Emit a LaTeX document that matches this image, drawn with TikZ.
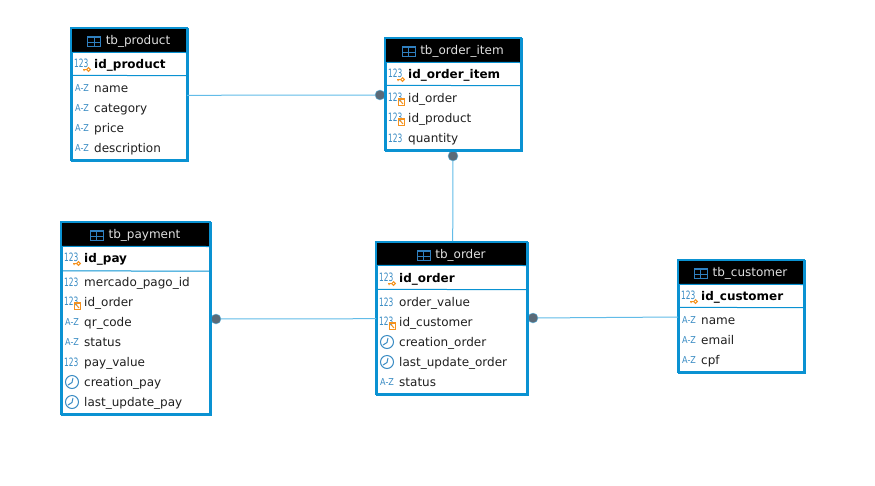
\documentclass[tikz,border=0pt]{standalone}
\usepackage{fontspec}
\setmainfont{DejaVu Sans}
\definecolor{tblue}{HTML}{0A92D2}
\definecolor{iblue}{HTML}{3A8CC4}
\definecolor{hblue}{HTML}{2F7FBF}
\definecolor{korange}{HTML}{F5921E}
\definecolor{dotc}{HTML}{5A6A78}
\definecolor{linec}{HTML}{62BCE8}
\newcounter{rowid}
\tikzset{
 tblbox/.style={draw=tblue,line width=1.8pt,fill=white,inner sep=0pt,minimum width=0pt,anchor=north west},
 hdr/.style={fill=black,inner sep=0pt,anchor=north west},
 hdrtxt/.style={text=white!88!black,font=\fontsize{12pt}{14pt}\selectfont,anchor=base west,inner sep=0pt},
 rowtxt/.style={text=black!88,font=\fontsize{12pt}{14pt}\selectfont,anchor=base west,inner sep=0pt},
 keytxt/.style={rowtxt,font=\fontsize{12pt}{14pt}\selectfont\bfseries,text=black},
 icontxt/.style={text=iblue,font=\fontsize{11.5pt}{13pt}\selectfont,xscale=0.65,anchor=base west,inner sep=0pt},
 aztxt/.style={text=iblue,font=\fontsize{9.5pt}{11pt}\selectfont,xscale=0.85,anchor=base west,inner sep=0pt},
 rel/.style={draw=linec,line width=1pt},
 reldot/.style={circle,fill=dotc,draw=linec,line width=0.4pt,inner sep=0pt,minimum size=10pt},
}
% #1 name, #2 x1, #3 y1, #4 x2, #5 y2, #6 header bottom, #7 key line, #8 title
\newcommand{\tbl}[8]{
 \node[tblbox,minimum width=#4pt-#2pt,minimum height=#5pt-#3pt] (#1) at (#2,#3) {};
 \node[hdr,minimum width=#4pt-#2pt,minimum height=#6pt-#3pt] (#1-h) at (#2,#3) {};
 \draw[tblue,line width=1pt] (#2,#6+0.3) -- (#4,#6+0.5);
 \draw[tblue,line width=1pt] (#2,#7-0.1) -- (#4,#7+0.1);
 \draw[tblue,line width=1.8pt] (#2,#3) rectangle (#4,#5);
 \pgfmathsetmacro{\tw}{(#2+#4)/2}
 \node[hdrtxt,anchor=base] (#1-t) at (\tw+9,#3+16.5) {#8};
 \begin{scope}[shift={(#1-t.west)},xshift=-18pt,yshift=0pt]
  \draw[hblue,line width=1pt] (0,-5) rectangle (13,5);
  \fill[hblue] (0,-5) rectangle (13,-3);
  \draw[hblue,line width=1pt] (0,1) -- (13,1) (6.5,-3) -- (6.5,5);
 \end{scope}
}
\newcommand{\ionum}[2]{\node[icontxt] (ic\therowid) at (#1,#2) {123};}
\newcommand{\ikey}[2]{\ionum{#1}{#2-0.5}
 \draw[korange,line width=1pt] (#1+14.5,#2+1.5) circle (1.8) (#1+12.7,#2+1.5) -- (#1+9,#2+1.5) (#1+10,#2+1.5) -- (#1+10,#2+3);}
\newcommand{\ifk}[2]{\ionum{#1}{#2-0.5}
 \draw[korange,line width=1.3pt] (#1+10.5,#2-3) rectangle (#1+16.5,#2+3.5);
 \draw[korange,line width=1pt] (#1+12,#2-1.5) -- (#1+15,#2+2);}
\newcommand{\iaz}[2]{\node[aztxt] (ic\therowid) at (#1+1,#2-0.5) {A-Z};}
\newcommand{\iclk}[2]{\draw[iblue,line width=1pt] (#1+8,#2-4) circle (6.5);
 \draw[iblue,line width=1pt] (#1+9,#2-8) -- (#1+8,#2-3.5) -- (#1+4,#2-1);}
% #1 icon macro, #2 x (left of row), #3 baseline y, #4 style, #5 text
\newcommand{\rowln}[5]{\stepcounter{rowid}
 #1{#2}{#3}
 \node[#4] (rw\therowid) at (#2+20,#3) {#5};}
\begin{document}
\begin{tikzpicture}[x=1pt,y=-1pt]
\useasboundingbox (0,0) rectangle (875,485);
\fill[white] (0,0) rectangle (875,485);

% dots (relation ends)
\node[reldot] (d1) at (380,95) {};
\node[reldot] (d2) at (453,156) {};
\node[reldot] (d3) at (216,319) {};
\node[reldot] (d4) at (533,318) {};
\coordinate (c1) at (187,95.3);
\coordinate (c2) at (452.7,241);
\coordinate (c3) at (376,318.7);
\coordinate (c4) at (678,317);

% tables
\tbl{product}{71}{28}{187}{160}{52}{75.5}{tb\_product}
\rowln{\ikey}{74}{68}{keytxt}{id\_product}
\rowln{\iaz}{74}{92}{rowtxt}{name}
\rowln{\iaz}{74}{112}{rowtxt}{category}
\rowln{\iaz}{74}{132}{rowtxt}{price}
\rowln{\iaz}{74}{152}{rowtxt}{description}

\tbl{item}{385}{38}{521}{150}{62}{85.5}{tb\_order\_item}
\rowln{\ikey}{388}{78}{keytxt}{id\_order\_item}
\rowln{\ifk}{388}{102}{rowtxt}{id\_order}
\rowln{\ifk}{388}{122}{rowtxt}{id\_product}
\rowln{\ionum}{388}{142}{rowtxt}{quantity}

\tbl{payment}{61}{222}{210}{414}{246}{271}{tb\_payment}
\rowln{\ikey}{64}{262}{keytxt}{id\_pay}
\rowln{\ionum}{64}{286}{rowtxt}{mercado\_pago\_id}
\rowln{\ifk}{64}{306}{rowtxt}{id\_order}
\rowln{\iaz}{64}{326}{rowtxt}{qr\_code}
\rowln{\iaz}{64}{346}{rowtxt}{status}
\rowln{\ionum}{64}{366}{rowtxt}{pay\_value}
\rowln{\iclk}{64}{386}{rowtxt}{creation\_pay}
\rowln{\iclk}{64}{406}{rowtxt}{last\_update\_pay}

\tbl{order}{376}{242}{527}{394}{265}{289.5}{tb\_order}
\rowln{\ikey}{379}{282}{keytxt}{id\_order}
\rowln{\ionum}{379}{306}{rowtxt}{order\_value}
\rowln{\ifk}{379}{326}{rowtxt}{id\_customer}
\rowln{\iclk}{379}{346}{rowtxt}{creation\_order}
\rowln{\iclk}{379}{366}{rowtxt}{last\_update\_order}
\rowln{\iaz}{379}{386}{rowtxt}{status}

\tbl{customer}{678}{260}{804}{372}{284}{307.5}{tb\_customer}
\rowln{\ikey}{681}{300}{keytxt}{id\_customer}
\rowln{\iaz}{681}{324}{rowtxt}{name}
\rowln{\iaz}{681}{344}{rowtxt}{email}
\rowln{\iaz}{681}{364}{rowtxt}{cpf}

% connectors
\draw[rel] (c1) -- (d1);
\draw[rel] (d2) -- (c2);
\draw[rel] (d3) -- (c3);
\draw[rel] (d4) -- (c4);
\end{tikzpicture}
\end{document}
